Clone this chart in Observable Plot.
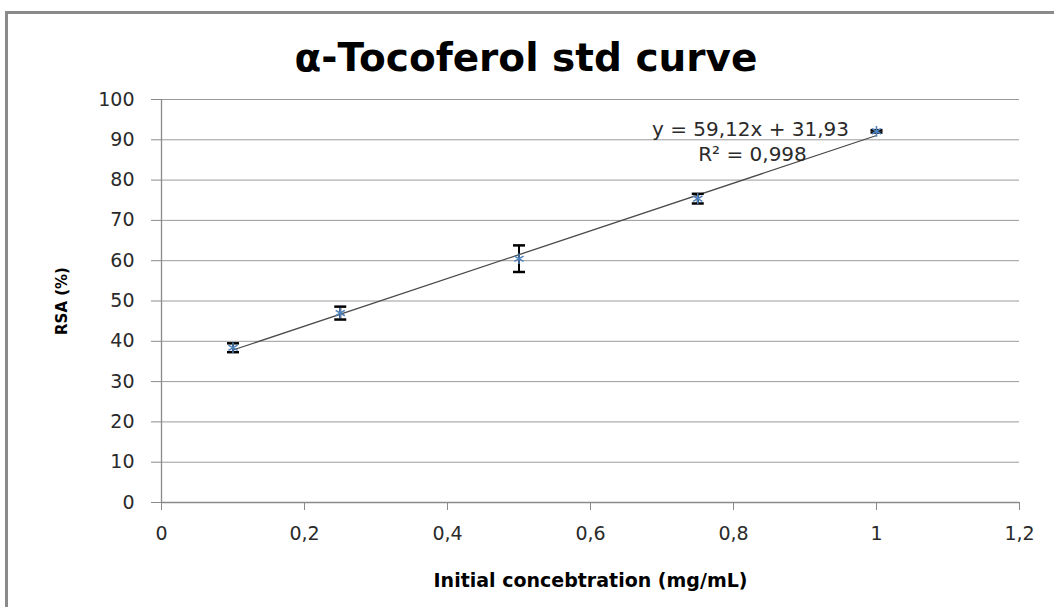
<!DOCTYPE html>
<html>
<head>
<meta charset="utf-8">
<script src="https://cdn.jsdelivr.net/npm/d3@7"></script>
<script src="https://cdn.jsdelivr.net/npm/@observablehq/plot@0.6"></script>
<style>
  html, body { margin: 0; padding: 0; background: #fff; }
  #wrap { position: relative; width: 1054px; height: 607px; overflow: hidden; }
  #border { position: absolute; left: 5px; top: 11px; width: 1100px; height: 700px; border-left: 3px solid #8a8a8a; border-top: 3px solid #8a8a8a; }
  #title { position: absolute; left: 0; width: 1054px; top: 34px; text-align: center; font-family: "DejaVu Sans", sans-serif; font-weight: bold; font-size: 39px; line-height: 48px; color: #000; }
  #title span { position: relative; left: -1px; }
  #chart { position: absolute; left: 0; top: 0; }
</style>
</head>
<body>
<div id="wrap">
  <div id="border"></div>
  <div id="chart"></div>
  <div id="title"><span>α-Tocoferol std curve</span></div>
</div>
<script>
// Data
const concentration = [0.1, 0.25, 0.5, 0.75, 1.0];   // mg/mL
const rsaPercent    = [38.4, 47.0, 60.5, 75.4, 92.1]; // RSA (%)
const errorBar      = [1.1, 1.6, 3.3, 1.2, 0.3];      // ± error
const xTicks = [0, 0.2, 0.4, 0.6, 0.8, 1.0, 1.2];
const yTicks = [0, 10, 20, 30, 40, 50, 60, 70, 80, 90, 100];
const equationText = "y = 59,12x + 31,93";
const r2Text = "R² = 0,998";
const xTitle = "Initial concebtration (mg/mL)";
const yTitle = "RSA (%)";

const data = concentration.map((c, i) => ({x: c, y: rsaPercent[i], e: errorBar[i]}));

const capSymbol = {
  draw(context, size) {
    const w = Math.sqrt(size / Math.PI);
    context.moveTo(-w, 0);
    context.lineTo(w, 0);
  }
};

const fmt = d => String(d).replace(".", ",");

const chart = Plot.plot({
  width: 1054,
  height: 607,
  marginLeft: 161,
  marginRight: 35,
  marginTop: 99,
  marginBottom: 105,
  style: {fontFamily: "DejaVu Sans, sans-serif", fontSize: "19px", color: "#222", background: "transparent"},
  x: {domain: [0, 1.2]},
  y: {domain: [0, 100]},
  marks: [
    Plot.gridY(yTicks, {stroke: "#9a9a9a", strokeOpacity: 1, strokeWidth: 1}),
    Plot.ruleX([0], {stroke: "#8a8a8a", strokeWidth: 1.3}),
    Plot.ruleY([0], {stroke: "#8a8a8a", strokeWidth: 1.3}),
    Plot.axisY({ticks: yTicks, tickSize: 10, tickPadding: 17, stroke: "#8a8a8a", label: null, fill: "#2a2a2a", fontSize: 19}),
    Plot.axisX({ticks: xTicks, tickSize: 8, tickPadding: 16, stroke: "#8a8a8a", label: null, tickFormat: fmt, fill: "#2a2a2a", fontSize: 19}),
    Plot.linearRegressionY(data, {x: "x", y: "y", ci: 0, stroke: "#4a4a4a", strokeWidth: 1.3}),
    Plot.ruleX(data, {x: "x", y1: d => d.y - d.e, y2: d => d.y + d.e, stroke: "#000", strokeWidth: 2}),
    Plot.dot(data, {x: "x", y: d => d.y - d.e, symbol: capSymbol, r: 6, stroke: "#000", strokeWidth: 2.5, fill: "none"}),
    Plot.dot(data, {x: "x", y: d => d.y + d.e, symbol: capSymbol, r: 6, stroke: "#000", strokeWidth: 2.5, fill: "none"}),
    Plot.dot(data, {x: "x", y: "y", symbol: "asterisk", r: 5, stroke: "#4f81bd", strokeWidth: 1.5}),
    Plot.text([equationText], {frameAnchor: "top-right", textAnchor: "middle", lineAnchor: "bottom", dx: -269, dy: 36, fontSize: 20, fill: "#2a2a2a"}),
    Plot.text([r2Text], {frameAnchor: "top-right", textAnchor: "middle", lineAnchor: "bottom", dx: -267, dy: 61, fontSize: 20, fill: "#2a2a2a"}),
    Plot.text([yTitle], {frameAnchor: "left", textAnchor: "middle", rotate: -90, dx: -99, fontSize: 15, fontWeight: "bold", fill: "#000"}),
    Plot.text([xTitle], {frameAnchor: "bottom", lineAnchor: "middle", dy: 78, fontSize: 19, fontWeight: "bold", fill: "#000"})
  ]
});
document.getElementById("chart").appendChild(chart);
</script>
</body>
</html>
